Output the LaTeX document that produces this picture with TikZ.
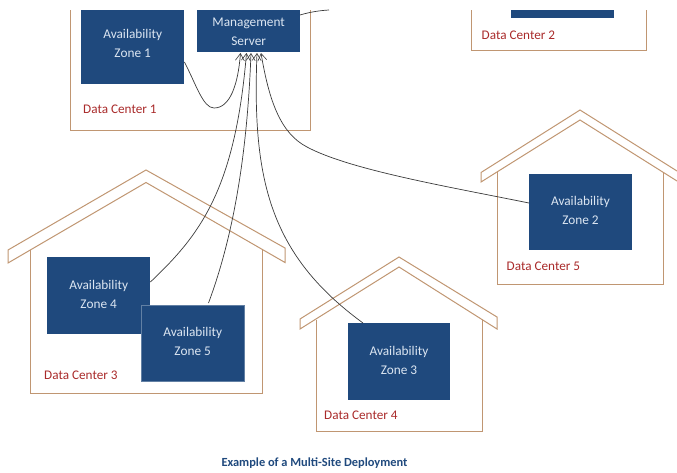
\documentclass[tikz,border=0pt]{standalone}
\usepackage{fontspec}
\setmainfont{Carlito}
\usetikzlibrary{arrows.meta}
\definecolor{zoneblue}{HTML}{1F497D}
\definecolor{wallbrown}{HTML}{C09672}
\definecolor{dcred}{HTML}{A92A2A}
\definecolor{zonetext}{HTML}{DCE6F2}
\definecolor{wirecol}{HTML}{3A3A3A}
\definecolor{captionblue}{HTML}{1F497D}
\newcommand\zlift[1]{\rule[-#1]{0pt}{#1}}
\newcommand\zdrop[1]{\rule{0pt}{#1}}
\tikzset{
  x=1pt,y=-1pt,
  zone/.style={fill=zoneblue,draw=none,text=zonetext,align=center,font=\fontsize{13.3}{19}\selectfont,inner sep=0pt,anchor=north west},
  wall/.style={draw=wallbrown,line width=1pt,line join=miter},
  dclabel/.style={text=dcred,font=\fontsize{13.2}{15}\selectfont,anchor=west,inner sep=0pt},
  wire/.style={draw=wirecol,line width=0.7pt},
  wirehead/.style={wire,-{Straight Barb[length=7pt,width=9pt,line width=0.6pt]}},
}
\begin{document}
\begin{tikzpicture}
\useasboundingbox (0,0) rectangle (677,472);
% Data centre 1
\draw[wall] (70,10) -- (70,130.5) -- (310,130.5) -- (310,10);
\node[dclabel] (dc1) at (83,109) {Data Center 1};
% Data centre 2
\draw[wall] (471.5,10) -- (471.5,50.5) -- (646.5,50.5) -- (646.5,10);
\node[dclabel] (dc2) at (481.5,35) {Data Center 2};
\fill[zoneblue] (511,10) rectangle (614,18);
% House 3
\draw[wall] (30,250) -- (30,393.5) -- (262.5,393.5) -- (262.5,250);
\draw[wall] (146,170) -- (285,248) -- (285,262.5) -- (146,182.5) -- (8,263) -- (8,250) -- cycle;
\node[dclabel] (dc3) at (44,375.5) {Data Center 3};
% House 5
\draw[wall] (497.5,172) -- (497.5,284) -- (663,284) -- (663,172);
\draw[wall] (677,171) -- (580,110) -- (481,172.5) -- (481,182) -- (580,120) -- (677,181);
\node[dclabel] (dc5) at (506.5,266) {Data Center 5};
% House 4
\draw[wall] (316,320) -- (316,431) -- (482,431) -- (482,320);
\draw[wall] (399,257) -- (497,317) -- (497,329) -- (399,267) -- (300,329) -- (300,319) -- cycle;
\node[dclabel] (dc4) at (324,415) {Data Center 4};
% Zones
\begin{scope}
\clip (0,10) rectangle (677,472);
\node[zone,minimum width=103pt,minimum height=81pt] (az1) at (81,3) {Availability\\Zone 1};
\end{scope}
\node[zone,minimum width=103pt,minimum height=42pt] (ms) at (197,10) {\zdrop{10.5pt}Management\\Server};
\node[zone,minimum width=103pt,minimum height=77pt] (az4) at (47,257) {Availability\\Zone 4\zlift{2pt}};
\node[zone,minimum width=103pt,minimum height=76pt,draw=white!30!zoneblue,line width=0.4pt] (az5) at (141,305) {Availability\\Zone 5\zlift{4pt}};
\node[zone,minimum width=102.5pt,minimum height=76pt] (az2) at (529,173.5) {Availability\\Zone 2\zlift{2pt}};
\node[zone,minimum width=102.5pt,minimum height=77pt] (az3) at (347.5,323) {Availability\\Zone 3\zlift{2pt}};
% Connectors
\coordinate (t1) at (240.5,53);
\coordinate (t4) at (246.5,53);
\coordinate (t5) at (251,53);
\coordinate (t3) at (257,53);
\coordinate (t2) at (261,53);
\coordinate (off) at (329,10);
\draw[wirehead] (az1.east |- 0,62) .. controls (196,84) and (203,108) .. (214,108) .. controls (230,108) and (238,85) .. (t1);
\draw[wirehead] (az4.east |- 0,282) .. controls (200,235) and (235,190) .. (t4);
\draw[wirehead] (208.5,303) .. controls (232,240) and (247,160) .. (t5);
\draw[wirehead] (363,323) .. controls (270,255) and (252,180) .. (t3);
\draw[wirehead] (az2.west |- 0,203) .. controls (450,187) and (350,170) .. (307,147) .. controls (280,133) and (269,100) .. (t2);
\draw[wire] (300,15) .. controls (310,12) and (320,10.5) .. (off);
% Caption
\node[font=\bfseries\fontsize{12.4}{14}\selectfont,text=captionblue,inner sep=0pt] (cap) at (314.5,463.5) {Example of a Multi-Site Deployment};
\end{tikzpicture}
\end{document}
